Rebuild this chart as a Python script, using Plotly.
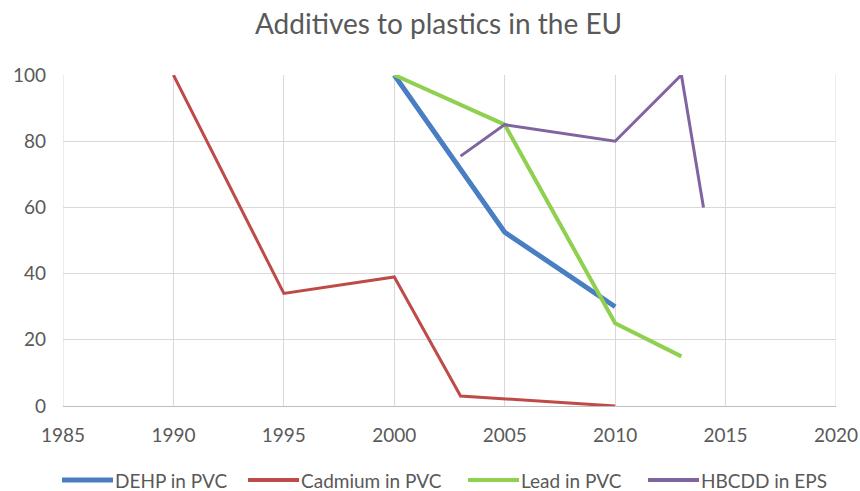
import plotly.graph_objects as go

# Index values per additive (100 = starting level)
dehp_years = [2000, 2005, 2010]
dehp_vals = [100, 52.5, 30]

cadmium_years = [1990, 1995, 2000, 2003, 2010]
cadmium_vals = [100, 34, 39, 3, 0]

lead_years = [2000, 2005, 2010, 2013]
lead_vals = [100, 85, 25, 15]

hbcdd_years = [2003, 2005, 2010, 2013, 2014]
hbcdd_vals = [75.5, 85, 80, 100, 60]

x_ticks = [1985, 1990, 1995, 2000, 2005, 2010, 2015, 2020]
y_ticks = [0, 20, 40, 60, 80, 100]

series = [
    ("DEHP in PVC", dehp_years, dehp_vals, "#4A7EC2", 5),
    ("Cadmium in PVC", cadmium_years, cadmium_vals, "#BE4B48", 3),
    ("Lead in PVC", lead_years, lead_vals, "#8FD14F", 4),
    ("HBCDD in EPS", hbcdd_years, hbcdd_vals, "#8064A2", 3),
]

# Figure geometry (pixels)
W, H = 860, 491
ML, MR, MT, MB = 63, 24, 75, 85
plot_w = W - ML - MR
plot_h = H - MT - MB

# Legend entry start positions (pixels from the left edge) and row height
legend_x = [62, 248, 468, 648]
legend_line_len = 51
legend_row_y = 480


def px_to_paper_x(px):
    return (px - ML) / plot_w


def px_to_paper_y(py):
    return (H - MB - py) / plot_h


fig = go.Figure()
for name, xs, ys, color, width in series:
    fig.add_trace(go.Scatter(
        x=xs, y=ys, mode="lines", name=name,
        line=dict(color=color, width=width),
        showlegend=False,
    ))

font_family = "Lato, 'Open Sans', sans-serif"

# Legend drawn as a row of line swatches with labels
ly = px_to_paper_y(legend_row_y)
for (name, _, _, color, width), x0 in zip(series, legend_x):
    fig.add_shape(type="line", xref="paper", yref="paper",
                  x0=px_to_paper_x(x0), x1=px_to_paper_x(x0 + legend_line_len),
                  y0=ly, y1=ly, line=dict(color=color, width=max(width, 4)))
    fig.add_annotation(xref="paper", yref="paper",
                       x=px_to_paper_x(x0 + legend_line_len + 1), y=ly,
                       xanchor="left", yanchor="middle", showarrow=False,
                       text=name, borderpad=0,
                       font=dict(family=font_family, size=19, color="#595959"))

fig.update_layout(
    width=W, height=H,
    margin=dict(l=ML, r=MR, t=MT, b=MB, autoexpand=False),
    paper_bgcolor="white", plot_bgcolor="white",
    title=dict(text="Additives to plastics in the EU", x=0.51, xanchor="center",
               y=0.95, yanchor="middle",
               font=dict(family=font_family, size=28, color="#595959")),
    xaxis=dict(range=[1985, 2020], tickvals=x_ticks, showgrid=True,
               gridcolor="#D9D9D9", gridwidth=1, zeroline=False,
               showline=True, linecolor="#BFBFBF", linewidth=1,
               ticks="", ticklabelstandoff=12, automargin=False,
               tickfont=dict(family=font_family, size=19, color="#595959")),
    yaxis=dict(range=[0, 100], tickvals=y_ticks, showgrid=True,
               gridcolor="#D9D9D9", gridwidth=1, zeroline=False,
               showline=False, ticks="", ticklabelstandoff=16, automargin=False,
               tickfont=dict(family=font_family, size=19, color="#595959")),
    showlegend=False,
)
fig.add_shape(type="line", xref="x", yref="y", x0=1985, x1=1985, y0=0, y1=100,
              line=dict(color="#D9D9D9", width=1), layer="below")
fig.add_shape(type="line", xref="x", yref="y", x0=2020, x1=2020, y0=0, y1=100,
              line=dict(color="#D9D9D9", width=1), layer="below")

fig.write_html("out.html")
